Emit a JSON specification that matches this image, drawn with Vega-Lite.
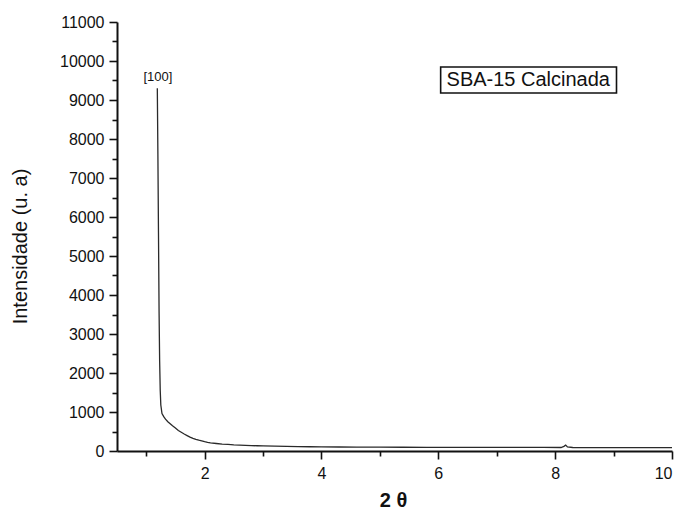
{
  "$schema": "https://vega.github.io/schema/vega-lite/v6.json",
  "width": 555,
  "height": 429,
  "autosize": {"type": "none"},
  "padding": {"left": 117, "top": 22, "right": 10, "bottom": 64},
  "background": "white",
  "config": {
    "view": {"stroke": null},
    "font": "Liberation Sans",
    "axis": {
      "grid": false,
      "domainColor": "#111",
      "domainWidth": 2,
      "tickColor": "#111",
      "tickWidth": 1.6,
      "labelColor": "#111",
      "labelFont": "Liberation Sans",
      "labelFontSize": 16,
      "titleFont": "Liberation Sans",
      "titleColor": "#111",
      "titleFontWeight": "normal"
    }
  },
  "datasets": {
    "xrd": [
      {"theta2": 1.19, "intensity": 9300},
      {"theta2": 1.20, "intensity": 7600},
      {"theta2": 1.21, "intensity": 5600},
      {"theta2": 1.22, "intensity": 3600},
      {"theta2": 1.23, "intensity": 2300},
      {"theta2": 1.24, "intensity": 1550},
      {"theta2": 1.25, "intensity": 1180},
      {"theta2": 1.27, "intensity": 960},
      {"theta2": 1.30, "intensity": 880},
      {"theta2": 1.33, "intensity": 815},
      {"theta2": 1.37, "intensity": 750},
      {"theta2": 1.41, "intensity": 700},
      {"theta2": 1.45, "intensity": 645},
      {"theta2": 1.50, "intensity": 590},
      {"theta2": 1.55, "intensity": 525},
      {"theta2": 1.60, "intensity": 480},
      {"theta2": 1.65, "intensity": 435},
      {"theta2": 1.70, "intensity": 395},
      {"theta2": 1.75, "intensity": 355},
      {"theta2": 1.80, "intensity": 325},
      {"theta2": 1.85, "intensity": 300},
      {"theta2": 1.90, "intensity": 278},
      {"theta2": 1.95, "intensity": 258},
      {"theta2": 2.00, "intensity": 238},
      {"theta2": 2.05, "intensity": 220},
      {"theta2": 2.10, "intensity": 208},
      {"theta2": 2.20, "intensity": 192},
      {"theta2": 2.30, "intensity": 178},
      {"theta2": 2.40, "intensity": 168},
      {"theta2": 2.50, "intensity": 158},
      {"theta2": 2.60, "intensity": 152},
      {"theta2": 2.70, "intensity": 146},
      {"theta2": 2.80, "intensity": 139},
      {"theta2": 2.90, "intensity": 134},
      {"theta2": 3.00, "intensity": 129},
      {"theta2": 3.20, "intensity": 123},
      {"theta2": 3.40, "intensity": 118},
      {"theta2": 3.60, "intensity": 113},
      {"theta2": 3.80, "intensity": 109},
      {"theta2": 4.00, "intensity": 106},
      {"theta2": 4.30, "intensity": 103},
      {"theta2": 4.60, "intensity": 100},
      {"theta2": 5.00, "intensity": 98},
      {"theta2": 5.40, "intensity": 96},
      {"theta2": 5.80, "intensity": 95},
      {"theta2": 6.20, "intensity": 93},
      {"theta2": 6.60, "intensity": 93},
      {"theta2": 7.00, "intensity": 92},
      {"theta2": 7.40, "intensity": 91},
      {"theta2": 7.80, "intensity": 91},
      {"theta2": 8.10, "intensity": 90},
      {"theta2": 8.15, "intensity": 120},
      {"theta2": 8.18, "intensity": 150},
      {"theta2": 8.21, "intensity": 105},
      {"theta2": 8.30, "intensity": 90},
      {"theta2": 8.70, "intensity": 89},
      {"theta2": 9.10, "intensity": 88},
      {"theta2": 9.50, "intensity": 88},
      {"theta2": 10.00, "intensity": 87}
    ],
    "box": [
      {"x1": 6.04, "x2": 9.05, "y1": 9180, "y2": 9846}
    ],
    "labels": [
      {"x": 7.54, "y": 9513, "text": "SBA-15 Calcinada", "kind": "legend"},
      {"x": 1.2, "y": 9590, "text": "[100]", "kind": "peak"}
    ]
  },
  "layer": [
    {
      "data": {"name": "xrd"},
      "mark": {"type": "line", "color": "#2a2a2a", "strokeWidth": 1.3},
      "encoding": {
        "x": {
          "field": "theta2",
          "type": "quantitative",
          "scale": {"domain": [0.5, 10], "nice": false, "zero": false},
          "axis": {
            "orient": "bottom",
            "values": [2, 4, 6, 8, 10],
            "tickSize": 8,
            "labelPadding": 6,
            "title": "2 θ",
            "titleFontSize": 20,
            "titleFontWeight": "bold",
            "titleX": 276,
            "titleY": 49,
            "titleBaseline": "middle",
            "titleAlign": "center"
          }
        },
        "y": {
          "field": "intensity",
          "type": "quantitative",
          "scale": {"domain": [0, 11000], "nice": false},
          "axis": {
            "orient": "left",
            "values": [0, 1000, 2000, 3000, 4000, 5000, 6000, 7000, 8000, 9000, 10000, 11000],
            "format": "d",
            "tickSize": 8,
            "labelPadding": 5,
            "title": "Intensidade (u. a)",
            "titleFontSize": 20,
            "titleX": -97,
            "titleY": 224,
            "titleAngle": 270,
            "titleAlign": "center",
            "titleBaseline": "middle"
          }
        }
      }
    },
    {
      "data": {"name": "box"},
      "mark": {"type": "rect", "fill": "white", "stroke": "#111", "strokeWidth": 1.6},
      "encoding": {
        "x": {
          "field": "x1",
          "type": "quantitative",
          "axis": {
            "orient": "bottom",
            "values": [1, 3, 5, 7, 9],
            "tickSize": 5,
            "labels": false,
            "domain": false,
            "title": null
          }
        },
        "x2": {"field": "x2"},
        "y": {
          "field": "y1",
          "type": "quantitative",
          "axis": {
            "orient": "left",
            "values": [500, 1500, 2500, 3500, 4500, 5500, 6500, 7500, 8500, 9500, 10500],
            "tickSize": 5,
            "labels": false,
            "domain": false,
            "title": null
          }
        },
        "y2": {"field": "y2"}
      }
    },
    {
      "data": {"name": "labels"},
      "transform": [{"filter": "datum.kind === 'legend'"}],
      "mark": {"type": "text", "fontSize": 20, "color": "#111", "font": "Liberation Sans", "align": "center", "baseline": "middle"},
      "encoding": {
        "x": {"field": "x", "type": "quantitative", "axis": null},
        "y": {"field": "y", "type": "quantitative", "axis": null},
        "text": {"field": "text"}
      }
    },
    {
      "data": {"name": "labels"},
      "transform": [{"filter": "datum.kind === 'peak'"}],
      "mark": {"type": "text", "fontSize": 13, "color": "#111", "font": "Liberation Sans", "align": "center", "baseline": "middle"},
      "encoding": {
        "x": {"field": "x", "type": "quantitative", "axis": null},
        "y": {"field": "y", "type": "quantitative", "axis": null},
        "text": {"field": "text"}
      }
    }
  ],
  "resolve": {"axis": {"x": "independent", "y": "independent"}}
}
